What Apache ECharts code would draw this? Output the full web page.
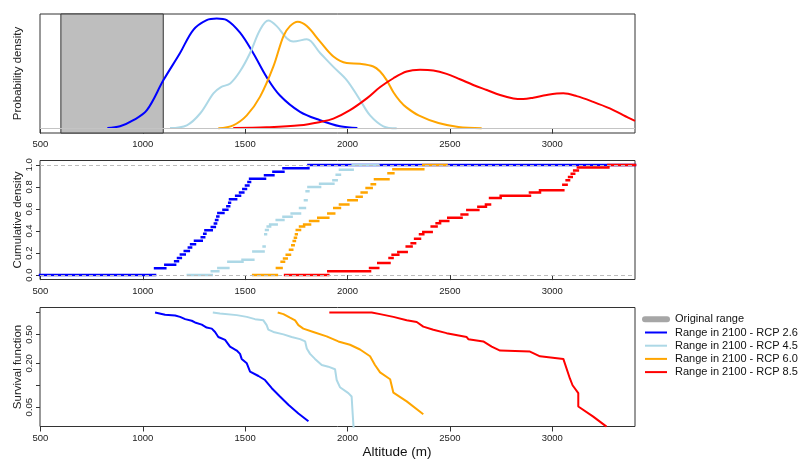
<!DOCTYPE html>
<html>
<head>
<meta charset="utf-8">
<script src="https://cdn.jsdelivr.net/npm/echarts@6.0.0/dist/echarts.min.js"></script>
<style>
html, body { margin: 0; padding: 0; background: #fff; }
#main { width: 801px; height: 460px; }
</style>
</head>
<body>
<div id="main"></div>
<script>
// axis limits and ticks
var xMin = 498, xMax = 3404;
var xTicks = [500, 1000, 1500, 2000, 2500, 3000];
var cdfTicks = [0, 0.2, 0.4, 0.6, 0.8, 1.0];
var survMin = 0.0271, survMax = 1.171;
var survTicks = [0.05, 0.1, 0.2, 0.5, 1.0];
var survLabels = [0.05, 0.2, 0.5];

var names = ['Original range', 'Range in 2100 - RCP 2.6', 'Range in 2100 - RCP 4.5', 'Range in 2100 - RCP 6.0', 'Range in 2100 - RCP 8.5'];
var originalRange = [600, 1100];

// probability density (relative, peak = 1)
var densRcp26 = [[827,0.005],[889,0.021],[954,0.076],[1020,0.167],[1101,0.44],[1182,0.686],[1247,0.897],[1312,0.985],[1361,1.0],[1410,0.985],[1475,0.87],[1539,0.686],[1605,0.467],[1670,0.30],[1768,0.152],[1866,0.076],[1963,0.021],[2048,0.005]];
var densRcp45 = [[1133,0.005],[1215,0.03],[1280,0.137],[1345,0.32],[1380,0.375],[1427,0.41],[1475,0.52],[1524,0.686],[1573,0.897],[1613,0.98],[1654,0.93],[1703,0.82],[1735,0.79],[1801,0.81],[1866,0.686],[1931,0.56],[1996,0.44],[2061,0.26],[2110,0.12],[2175,0.021],[2240,0.003]];
var densRcp60 = [[1369,0.003],[1442,0.03],[1508,0.12],[1573,0.29],[1638,0.564],[1687,0.84],[1719,0.93],[1757,0.97],[1801,0.93],[1866,0.79],[1931,0.655],[1996,0.595],[2061,0.588],[2126,0.564],[2158,0.52],[2191,0.44],[2224,0.33],[2256,0.25],[2289,0.19],[2347,0.12],[2444,0.05],[2541,0.015],[2655,0.003]];
var densRcp85 = [[1442,0.005],[1605,0.012],[1768,0.03],[1866,0.06],[1931,0.09],[2012,0.167],[2094,0.274],[2158,0.375],[2224,0.457],[2289,0.518],[2354,0.533],[2419,0.527],[2484,0.497],[2549,0.448],[2614,0.396],[2680,0.35],[2745,0.305],[2810,0.274],[2858,0.268],[2907,0.28],[2973,0.305],[3054,0.32],[3119,0.295],[3200,0.243],[3281,0.183],[3346,0.122],[3404,0.07]];

// empirical cumulative density: step edges and levels
var ecdfRcp26X = [498,1060,1110,1158,1172,1186,1205,1225,1236,1255,1288,1300,1306,1337,1352,1358,1364,1369,1394,1413,1422,1426,1456,1475,1491,1504,1516,1524,1597,1638,1687,1809,3404];
var ecdfRcp26Y = [0,0.0625,0.094,0.125,0.156,0.1875,0.219,0.25,0.281,0.3125,0.344,0.375,0.406,0.4375,0.469,0.5,0.531,0.5625,0.594,0.625,0.656,0.6875,0.719,0.75,0.781,0.8125,0.844,0.875,0.906,0.9375,0.969,1.0];
var ecdfRcp45X = [1220,1337,1369,1418,1487,1540,1590,1595,1598,1602,1610,1622,1654,1687,1727,1768,1792,1800,1809,1866,1931,1947,1963,2025,2150];
var ecdfRcp45Y = [0,0.035,0.065,0.12,0.14,0.215,0.26,0.31,0.37,0.41,0.44,0.46,0.50,0.53,0.56,0.61,0.68,0.76,0.80,0.83,0.86,0.91,0.955,1.0];
var ecdfRcp60X = [1539,1655,1678,1690,1703,1719,1730,1737,1743,1748,1752,1768,1788,1817,1857,1906,1935,1963,2004,2045,2069,2093,2118,2134,2200,2224,2370,2484];
var ecdfRcp60Y = [0,0.065,0.12,0.15,0.185,0.23,0.27,0.31,0.34,0.37,0.41,0.44,0.46,0.49,0.52,0.56,0.61,0.64,0.68,0.71,0.75,0.79,0.825,0.87,0.925,0.96,1.0];
var ecdfRcp85X = [1695,1906,2110,2150,2205,2220,2248,2289,2313,2330,2354,2370,2411,2435,2452,2492,2557,2585,2639,2676,2696,2748,2891,2940,3054,3070,3082,3095,3107,3125,3274,3404];
var ecdfRcp85Y = [0,0.035,0.065,0.11,0.155,0.185,0.21,0.26,0.29,0.33,0.37,0.39,0.44,0.47,0.49,0.52,0.55,0.59,0.62,0.64,0.70,0.72,0.75,0.77,0.82,0.86,0.89,0.92,0.95,0.976,1.0];

// survival function (log scale)
var survRcp26 = [[1060,1.0],[1068,0.95],[1109,0.93],[1158,0.91],[1182,0.87],[1207,0.81],[1239,0.77],[1255,0.73],[1288,0.68],[1312,0.62],[1337,0.60],[1353,0.54],[1369,0.46],[1402,0.42],[1426,0.34],[1459,0.30],[1475,0.27],[1483,0.23],[1508,0.20],[1524,0.154],[1565,0.134],[1597,0.118],[1630,0.091],[1670,0.070],[1711,0.054],[1760,0.041],[1809,0.032]];
var survRcp45 = [[1342,1.0],[1377,0.97],[1459,0.92],[1508,0.87],[1548,0.81],[1589,0.78],[1605,0.67],[1613,0.58],[1638,0.54],[1687,0.50],[1727,0.46],[1768,0.43],[1793,0.40],[1801,0.32],[1817,0.27],[1841,0.23],[1874,0.19],[1906,0.18],[1939,0.166],[1947,0.118],[1963,0.094],[2004,0.078],[2020,0.070],[2025,0.041],[2030,0.025]];
var survRcp60 = [[1659,1.0],[1687,0.95],[1719,0.85],[1744,0.78],[1760,0.67],[1784,0.60],[1833,0.54],[1898,0.47],[1955,0.40],[2012,0.36],[2061,0.31],[2110,0.25],[2134,0.19],[2159,0.15],[2208,0.121],[2224,0.079],[2289,0.060],[2370,0.040]];
var survRcp85 = [[1911,1.0],[2118,1.0],[2159,0.95],[2224,0.87],[2289,0.78],[2338,0.74],[2370,0.64],[2419,0.58],[2484,0.52],[2582,0.46],[2590,0.43],[2663,0.40],[2704,0.34],[2745,0.30],[2891,0.29],[2940,0.25],[3054,0.23],[3086,0.124],[3099,0.10],[3127,0.078],[3127,0.051],[3200,0.037],[3265,0.027]];

var colors = ['#a6a6a6', '#0000ff', '#add8e6', '#ffa500', '#ff0000'];
var font = 'Liberation Sans, Arial, sans-serif';

// horizontal pieces only, like plot.ecdf without verticals
function stepSegments(xs, ys) {
	var out = [];
	for (var i = 0; i < ys.length; i++) {
		out.push([xs[i], ys[i]]);
		out.push([xs[i + 1], ys[i]]);
		out.push([xs[i + 1], '-']);
	}
	return out;
}

function xAxisFor(idx) {
	return {
		type: 'value', gridIndex: idx, min: xMin, max: xMax,
		axisLine: {show: false},
		axisTick: {show: true, length: 5, customValues: xTicks, lineStyle: {color: '#333'}},
		axisLabel: {show: true, margin: 6.5, fontSize: 9.5, color: '#222', fontFamily: font, customValues: xTicks,
			formatter: function (v) { return String(v); }},
		splitLine: {show: false}
	};
}

function yName(text) {
	return {
		name: text, nameLocation: 'middle', nameGap: 16, nameMoveOverlap: false,
		nameTextStyle: {fontSize: 11.5, color: '#222', fontFamily: font}
	};
}

function gridAt(top) {
	return {left: 40, right: 166, top: top, height: 119, show: true, borderColor: '#333', borderWidth: 1,
		containLabel: false, outerBoundsMode: 'none'};
}

var densities = [densRcp26, densRcp45, densRcp60, densRcp85];
var ecdfX = [ecdfRcp26X, ecdfRcp45X, ecdfRcp60X, ecdfRcp85X];
var ecdfY = [ecdfRcp26Y, ecdfRcp45Y, ecdfRcp60Y, ecdfRcp85Y];
var survivals = [survRcp26, survRcp45, survRcp60, survRcp85];

var series = [{
	name: names[0], type: 'line', xAxisIndex: 0, yAxisIndex: 0, data: [], z: 2,
	symbol: 'none',
	lineStyle: {color: colors[0], width: 6, cap: 'round'},
	itemStyle: {color: colors[0]},
	markArea: {
		silent: true,
		itemStyle: {color: '#bebebe', borderColor: '#333', borderWidth: 1},
		data: [[{xAxis: originalRange[0]}, {xAxis: originalRange[1]}]]
	},
	markLine: {
		silent: true, symbol: 'none', label: {show: false},
		lineStyle: {color: '#c4c4c4', type: 'solid', width: 1},
		data: [{yAxis: 0}]
	}
}];

for (var k = 0; k < 4; k++) {
	var c = colors[k + 1];
	series.push({
		name: names[k + 1], type: 'line', xAxisIndex: 0, yAxisIndex: 0, z: 3,
		data: densities[k], smooth: 0.35, symbol: 'none',
		lineStyle: {color: c, width: 2}, itemStyle: {color: c}
	});
	series.push({
		name: names[k + 1], type: 'line', xAxisIndex: 1, yAxisIndex: 1, z: 3,
		data: stepSegments(ecdfX[k], ecdfY[k]), symbol: 'none', connectNulls: false,
		lineStyle: {color: c, width: 2.5, cap: 'square'}, itemStyle: {color: c}
	});
	series.push({
		name: names[k + 1], type: 'line', xAxisIndex: 2, yAxisIndex: 2, z: 3,
		data: survivals[k], symbol: 'none',
		lineStyle: {color: c, width: 2}, itemStyle: {color: c}
	});
}

// dashed guides at 0 and 1, drawn over the curves
series.push({
	name: 'guides', type: 'line', xAxisIndex: 1, yAxisIndex: 1, data: [], z: 10,
	markLine: {
		silent: true, symbol: 'none', label: {show: false},
		lineStyle: {color: '#bdbdbd', type: [4, 3], width: 1},
		data: [{yAxis: 0}, {yAxis: 1}]
	}
});

var legendData = names.map(function (n, i) {
	return {name: n, lineStyle: {width: i === 0 ? 6 : 2, color: colors[i], cap: i === 0 ? 'round' : 'butt'}};
});

var option = {
	animation: false,
	backgroundColor: '#fff',
	textStyle: {fontFamily: font},
	grid: [gridAt(14), gridAt(160.5), gridAt(307.5)],
	xAxis: [xAxisFor(0), xAxisFor(1), xAxisFor(2)],
	yAxis: [
		Object.assign({
			type: 'value', gridIndex: 0, min: -0.04, max: 1.04,
			axisLine: {show: false}, axisTick: {show: false}, axisLabel: {show: false}, splitLine: {show: false}
		}, yName('Probability density')),
		Object.assign({
			type: 'value', gridIndex: 1, min: -0.04, max: 1.04,
			axisLine: {show: false},
			axisTick: {show: true, length: 4, customValues: cdfTicks, lineStyle: {color: '#333'}},
			axisLabel: {show: true, rotate: 90, margin: 6, fontSize: 9.5, color: '#222', customValues: cdfTicks,
				formatter: function (v) { return Number(v).toFixed(1); }},
			splitLine: {show: false}
		}, yName('Cumulative density')),
		Object.assign({
			type: 'log', logBase: 10, gridIndex: 2, min: survMin, max: survMax,
			axisLine: {show: false},
			axisTick: {show: true, length: 4, customValues: survTicks, lineStyle: {color: '#333'}},
			axisLabel: {show: true, rotate: 90, margin: 6, fontSize: 9.5, color: '#222', customValues: survLabels,
				formatter: function (v) { return Number(v).toFixed(2); }},
			splitLine: {show: false}
		}, yName('Survival function'))
	],
	legend: {
		orient: 'vertical', left: 642, top: 313.8, padding: 0,
		itemWidth: 22, itemHeight: 11, itemGap: 2.2,
		selectedMode: false,
		itemStyle: {opacity: 0},
		textStyle: {fontSize: 11, color: '#111', fontFamily: font, padding: [0, 0, 0, 3]},
		data: legendData
	},
	graphic: [{
		type: 'text', x: 397, y: 452,
		style: {text: 'Altitude (m)', align: 'center', verticalAlign: 'middle', fontSize: 13.5, fontFamily: font, fill: '#111'}
	}],
	series: series
};

var chart = echarts.init(document.getElementById('main'));
chart.setOption(option);
</script>
</body>
</html>
